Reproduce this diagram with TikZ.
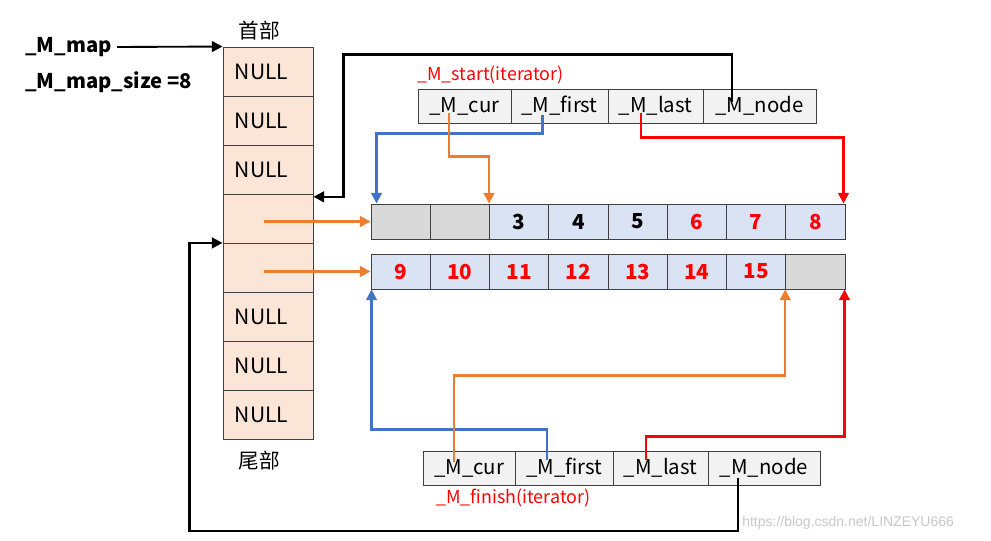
\documentclass[tikz,border=0pt]{standalone}
\usepackage{fontspec}
\setmainfont{Noto Sans CJK SC}
\newfontfamily\wmfont{Liberation Sans}
\usetikzlibrary{arrows.meta,calc}
\definecolor{peach}{HTML}{FBE5D6}
\definecolor{cellgray}{HTML}{D9D9D9}
\definecolor{cellblue}{HTML}{DAE3F3}
\definecolor{itgray}{HTML}{F2F2F2}
\definecolor{lblue}{HTML}{4472C4}
\definecolor{lorange}{HTML}{ED7D31}
\definecolor{lred}{HTML}{FF0000}
\tikzset{
  mapcell/.style={draw=black!75, fill=peach, minimum width=67.5pt, minimum height=36.825pt, inner sep=0pt, line width=0.7pt},
  arrcell/.style={draw=black!75, minimum width=44.44pt, minimum height=26.25pt, inner sep=0pt, line width=0.7pt, font=\fontsize{15.5}{15.5}\selectfont\bfseries},
  itcell/.style={draw=black!75, fill=itgray, minimum height=25.5pt, inner sep=0pt, line width=0.7pt, font=\fontsize{15.3}{15.3}\selectfont},
  txt/.style={inner sep=0pt, anchor=west},
  conn/.style={line width=1.8pt, -{Triangle[length=8pt,width=8pt]}},
  bkconn/.style={conn, draw=black},
  blconn/.style={conn, draw=lblue},
  orconn/.style={conn, draw=lorange},
  rdconn/.style={conn, draw=lred},
}
\begin{document}
\begin{tikzpicture}[x=0.75pt,y=-0.75pt]
\useasboundingbox (0,0) rectangle (991,541);
% map column
\foreach \i in {1,...,8}{
  \node[mapcell] (m\i) at (268, {47+49.1*(\i-0.5)}) {};
}
\foreach \i in {1,2,3,6,7,8}{
  \node[txt, font=\fontsize{15.8}{15.8}\selectfont] (n\i) at ($(m\i.west)+(12,0)$) {NULL};
}
\node[inner sep=0pt, font=\fontsize{15.5}{15.5}\selectfont] (head) at (259,31) {首部};
\node[inner sep=0pt, font=\fontsize{15.5}{15.5}\selectfont] (tail) at (259,461) {尾部};
\node[txt, font=\fontsize{15.2}{15.2}\selectfont\bfseries] (mapl) at (25,47) {\_M\_map};
\node[txt, font=\fontsize{15.2}{15.2}\selectfont\bfseries] (sizel) at (25,82) {\_M\_map\_size =8};
% arrays
\foreach \i/\t/\f/\c in {1/{}/cellgray/black,2/{}/cellgray/black,3/3/cellblue/black,4/4/cellblue/black,5/5/cellblue/black,6/6/cellblue/lred,7/7/cellblue/lred,8/8/cellblue/lred}{
  \node[arrcell, fill=\f, text=\c] (a1c\i) at ({371+59.25*(\i-0.5)}, 221.5) {\t};
}
\foreach \i/\t/\f/\c in {1/9/cellblue/lred,2/10/cellblue/lred,3/11/cellblue/lred,4/12/cellblue/lred,5/13/cellblue/lred,6/14/cellblue/lred,7/15/cellblue/lred,8/{}/cellgray/black}{
  \node[arrcell, fill=\f, text=\c] (a2c\i) at ({371+59.25*(\i-0.5)}, 271.5) {\t};
}
% start iterator
\node[itcell, minimum width=69.75pt] (s1) at (464.5,106) {\_M\_cur};
\node[itcell, minimum width=72.75pt] (s2) at (559.5,106) {\_M\_first};
\node[itcell, minimum width=71.25pt] (s3) at (655.5,106) {\_M\_last};
\node[itcell, minimum width=84.75pt] (s4) at (759.5,106) {\_M\_node};
\node[txt, text=lred, font=\fontsize{13.4}{13.4}\selectfont] (startl) at (417,75) {\_M\_start(iterator)};
% finish iterator
\node[itcell, minimum width=69.4pt] (f1) at (469.25,468) {\_M\_cur};
\node[itcell, minimum width=73.1pt] (f2) at (564.25,468) {\_M\_first};
\node[itcell, minimum width=71.25pt] (f3) at (660.5,468) {\_M\_last};
\node[itcell, minimum width=84pt] (f4) at (764,468) {\_M\_node};
\node[txt, text=lred, font=\fontsize{13.4}{13.4}\selectfont] (finishl) at (436,498) {\_M\_finish(iterator)};
% watermark
\node[txt, text=black!22, font=\wmfont\fontsize{10.5}{10.5}\selectfont] (wm) at (742,523) {https://blog.csdn.net/LINZEYU666};
% connectors
\draw[bkconn, line width=1.4pt] (mapl.east) ++(5,0) coordinate (mapstart) -- (m1.north west);
\draw[orconn] ($(a1c1.west -| m4.center)+(-4,0)$) -- (a1c1.west);
\draw[orconn] ($(a2c1.west -| m5.center)+(-4,0)$) -- (a2c1.west);
\draw[bkconn] ($(s4.center)+(-27.5,-4)$) |- ($(m1.north east)+(30,8)$) |- ($(m4.north east)+(0,3)$);
\draw[blconn] ($(s2.center)+(-17,9)$) |- ($(a1c1.north west)+(6,-70)$) -- ($(a1c1.north west)+(6,0)$);
\draw[orconn] ($(s1.center)+(-15.5,7)$) |- ($(a1c3.north west)+(0,-47)$) -- (a1c3.north west);
\draw[rdconn] ($(s3.center)+(-14.5,7)$) |- ($(a1c8.north east)+(-2,-66)$) -- ($(a1c8.north east)+(-2,0)$);
\draw[blconn] ($(f2.center)+(-17,-8)$) |- ($(a2c1.south west)+(1,140)$) -- ($(a2c1.south west)+(1,0)$);
\draw[orconn] ($(f1.center)+(-15,-6)$) |- ($(a2c8.south west)+(0,86)$) -- (a2c8.south west);
\draw[rdconn] ($(f3.center)+(-14.5,-8)$) |- ($(a2c8.south east)+(-1,147)$) -- ($(a2c8.south east)+(-1,0)$);
\draw[bkconn] ($(f4.center)+(-26,10)$) |- ($(m8.south west)+(-33,91)$) |- (m5.north west);
\end{tikzpicture}
\end{document}
